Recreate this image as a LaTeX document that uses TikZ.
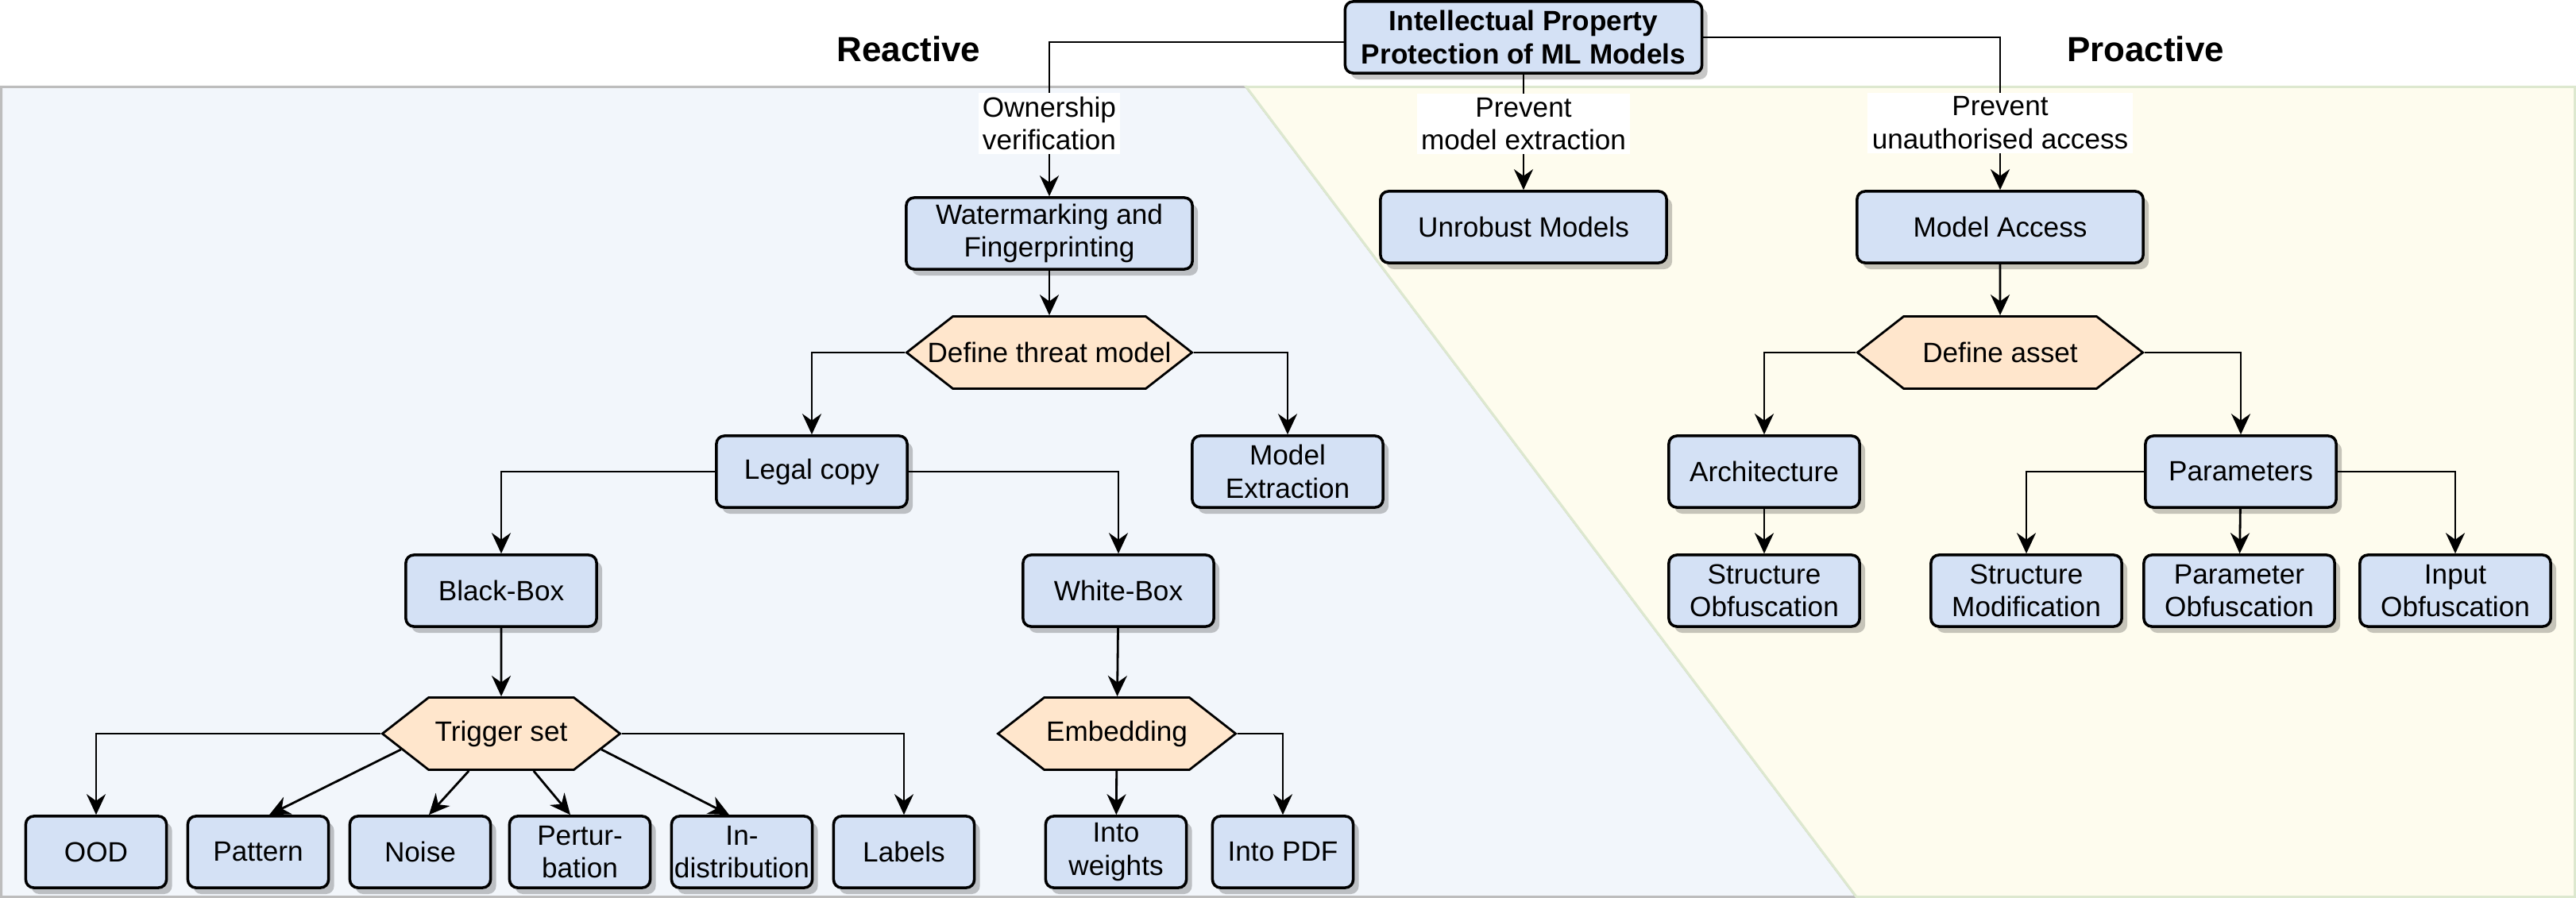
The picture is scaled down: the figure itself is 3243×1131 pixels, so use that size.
\documentclass[tikz,border=0pt]{standalone}
\usepackage{fontspec}
\setmainfont{Liberation Sans}
\usetikzlibrary{arrows.meta,shapes.symbols,shadows}
\definecolor{boxblue}{HTML}{D4E1F5}
\definecolor{hexorange}{HTML}{FFE6CC}
\definecolor{reactbg}{HTML}{F2F6FB}
\definecolor{proactbg}{HTML}{FEFCEE}
\definecolor{reactline}{HTML}{BDBDBD}
\definecolor{proactline}{HTML}{DDE8CF}
\begin{document}
\begin{tikzpicture}[x=0.01cm,y=-0.01cm,
  every node/.style={font=\fontsize{10}{11.7}\selectfont},
  box/.style={draw,line width=1pt,rounded corners=.1cm,fill=boxblue,align=center,
    minimum width=2.4cm,minimum height=.9cm,inner sep=1pt,
    drop shadow={shadow xshift=.07cm,shadow yshift=-.08cm,fill=black,opacity=.22}},
  leaf/.style={box,minimum width=1.77cm},
  hexa/.style={signal,signal to=west and east,signal pointer angle=76,draw,line width=.8pt,
    fill=hexorange,minimum width=3.59cm,minimum height=.91cm,inner sep=0pt},
  title/.style={font=\fontsize{12.5}{15}\selectfont\bfseries},
  lbl/.style={fill=white,align=center,inner sep=1.5pt},
  arr/.style={-{Stealth[length=.26cm,width=.24cm]},line width=.8pt}]
  \useasboundingbox (0,0) rectangle (3243,1131);

  \draw [reactline,line width=.03cm,fill=reactbg] (1.5,109.5) -- (1569,109.5) -- (2337,1129.5) -- (1.5,1129.5) -- cycle;
  \draw [proactline,line width=.03cm,fill=proactbg] (1569,109.5) -- (3241.5,109.5) -- (3241.5,1129.5) -- (2337,1129.5) -- cycle;

  \node [title] at (1144,62) {Reactive};
  \node [title] at (2701,62) {Proactive};

  \node [box,minimum width=4.49cm,font=\fontsize{10}{11.7}\selectfont\bfseries] (root) at (1918,47) {Intellectual Property\\Protection of ML Models};

  \node [box,minimum width=3.6cm] (wm) at (1321,294) {Watermarking and\\Fingerprinting};
  \node [box,minimum width=3.6cm] (unrob) at (1918,286) {Unrobust Models};
  \node [box,minimum width=3.6cm] (access) at (2518,286) {Model Access};

  \node [hexa] (threat) at (1321,444) {\makebox[0pt]{Define threat model}};
  \node [hexa] (asset) at (2518,444) {Define asset};

  \node [box] (legal) at (1022,594) {Legal copy};
  \node [box] (extract) at (1621,594) {Model\\Extraction};
  \node [box] (arch) at (2221,594) {Architecture};
  \node [box] (params) at (2821,594) {Parameters};

  \node [box] (bbox) at (631,744) {Black-Box};
  \node [box] (wbox) at (1408,744) {White-Box};
  \node [box] (structobf) at (2221,744) {Structure\\Obfuscation};
  \node [box] (structmod) at (2551,744) {Structure\\Modification};
  \node [box] (paramobf) at (2819,744) {Parameter\\Obfuscation};
  \node [box] (inputobf) at (3091,744) {Input\\Obfuscation};

  \node [hexa,minimum width=2.99cm] (trigger) at (631,924) {Trigger set};
  \node [hexa,minimum width=2.99cm] (embed) at (1406,924) {Embedding};

  \node [leaf] (ood) at (121,1073) {OOD};
  \node [leaf] (pattern) at (325,1073) {Pattern};
  \node [leaf] (noise) at (529,1073) {Noise};
  \node [leaf] (perturb) at (730,1073) {Pertur-\\bation};
  \node [leaf] (indist) at (934,1073) {In-\\distribution};
  \node [leaf] (labels) at (1138,1073) {Labels};
  \node [leaf] (weights) at (1405,1073) {Into\\weights};
  \node [leaf] (pdf) at (1615,1073) {Into PDF};

  \draw [arr] ([yshift=-.06cm]root.west) -| node [lbl,pos=.764] {Ownership\\verification} (wm);
  \draw [arr] (root) -- node [lbl,pos=.43] {Prevent\\model extraction} (unrob);
  \draw [arr] (root.east) -| node [lbl,pos=.78] {Prevent\\unauthorised access} (access);

  \draw [arr] (wm) -- (threat);
  \draw [arr] (threat.west) -| (legal);
  \draw [arr] (threat.east) -| (extract);
  \draw [arr] (legal.west) -| (bbox);
  \draw [arr] (legal.east) -| (wbox);
  \draw [arr] (bbox) -- (trigger);
  \draw [arr] (wbox) -- (embed);

  \draw [arr] (trigger.west) -| (ood);
  \draw [arr] (trigger.east) -| (labels);
  \draw [arr] (trigger.189) -- ([xshift=.14cm]pattern.north);
  \draw [arr] (trigger.229) -- ([xshift=.11cm]noise.north);
  \draw [arr] (trigger.311) -- ([xshift=-.12cm]perturb.north);
  \draw [arr] (trigger.351) -- ([xshift=-.16cm]indist.north);
  \draw [arr] (embed) -- (weights);
  \draw [arr] (embed.east) -| (pdf);

  \draw [arr] (access) -- (asset);
  \draw [arr] (asset.west) -| (arch);
  \draw [arr] (asset.east) -| (params);
  \draw [arr] (arch) -- (structobf);
  \draw [arr] (params.west) -| (structmod);
  \draw [arr] (params) -- (paramobf);
  \draw [arr] (params.east) -| (inputobf);
\end{tikzpicture}
\end{document}
